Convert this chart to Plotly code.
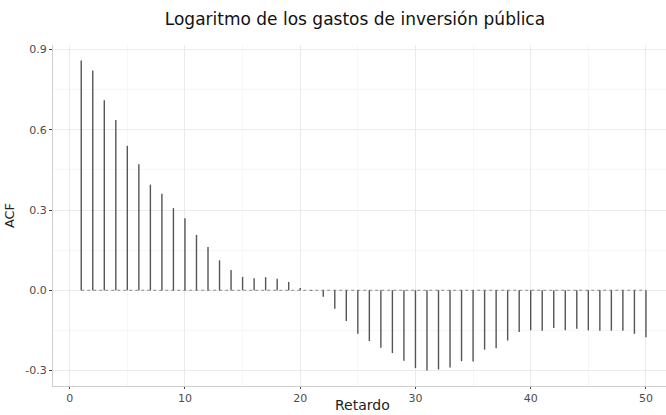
import plotly.graph_objects as go

title = "Logaritmo de los gastos de inversión pública"
x_label = "Retardo"
y_label = "ACF"

lags = list(range(1, 51))
acf = [0.859, 0.822, 0.710, 0.637, 0.540, 0.471, 0.395, 0.361, 0.307, 0.269,
       0.207, 0.162, 0.112, 0.076, 0.050, 0.045, 0.049, 0.043, 0.031, 0.008,
       -0.003, -0.024, -0.069, -0.115, -0.163, -0.190, -0.215, -0.235, -0.264, -0.291,
       -0.300, -0.296, -0.289, -0.265, -0.266, -0.222, -0.217, -0.188, -0.156, -0.150,
       -0.151, -0.141, -0.150, -0.144, -0.150, -0.151, -0.151, -0.151, -0.163, -0.176]

x_ticks = [0, 10, 20, 30, 40, 50]
y_ticks = [-0.3, 0.0, 0.3, 0.6, 0.9]
y_tick_text = ["-0.3", "0.0", "0.3", "0.6", "0.9"]

seg_x, seg_y = [], []
for l, v in zip(lags, acf):
    seg_x += [l, l, None]
    seg_y += [0, v, None]

FONT = "DejaVu Sans, Liberation Sans, Arial, sans-serif"

fig = go.Figure()
fig.add_trace(go.Scatter(x=[lags[0], lags[-1]], y=[0, 0], mode="lines",
                         line=dict(color="#8a8a8a", width=1.2, dash="dot"),
                         hoverinfo="skip", showlegend=False))
fig.add_trace(go.Scatter(x=seg_x, y=seg_y, mode="lines",
                         line=dict(color="#555555", width=1.4),
                         showlegend=False))

fig.update_layout(
    width=666, height=415,
    margin=dict(l=53, r=0, t=45, b=29),
    paper_bgcolor="white", plot_bgcolor="white",
    font=dict(family=FONT, color="#333333"),
    title=dict(text=title, x=0.533, xanchor="center", y=0.955, yanchor="middle",
               font=dict(size=17, color="#111111")),
    annotations=[dict(text=x_label, xref="paper", yref="paper", x=0.505, y=-0.055,
                      xanchor="center", yanchor="middle", showarrow=False,
                      font=dict(size=14, color="#222222"))],
)
fig.update_xaxes(
    range=[-1.45, 51.74], tickvals=x_ticks, ticks="outside", ticklen=2,
    tickcolor="#444444", tickfont=dict(size=11, color="#4d4d4d"),
    showgrid=True, gridcolor="#ebebeb", gridwidth=1,
    minor=dict(dtick=5, tick0=5, showgrid=True, gridcolor="#f6f6f6", ticks=""),
    showline=True, linecolor="#cfcfcf", linewidth=1, zeroline=False,
)
fig.update_yaxes(
    range=[-0.358, 0.917], tickvals=y_ticks, ticktext=y_tick_text, ticks="outside",
    ticklen=3, tickcolor="#444444", tickfont=dict(size=11, color="#4d4d4d"),
    showgrid=True, gridcolor="#ebebeb", gridwidth=1,
    minor=dict(tickvals=[-0.15, 0.15, 0.45, 0.75], showgrid=True, gridcolor="#f6f6f6", ticks=""),
    showline=True, linecolor="#cfcfcf", linewidth=1, zeroline=False,
    title=dict(text=y_label, font=dict(size=13, color="#222222"), standoff=7),
)

fig.write_html("out.html")
